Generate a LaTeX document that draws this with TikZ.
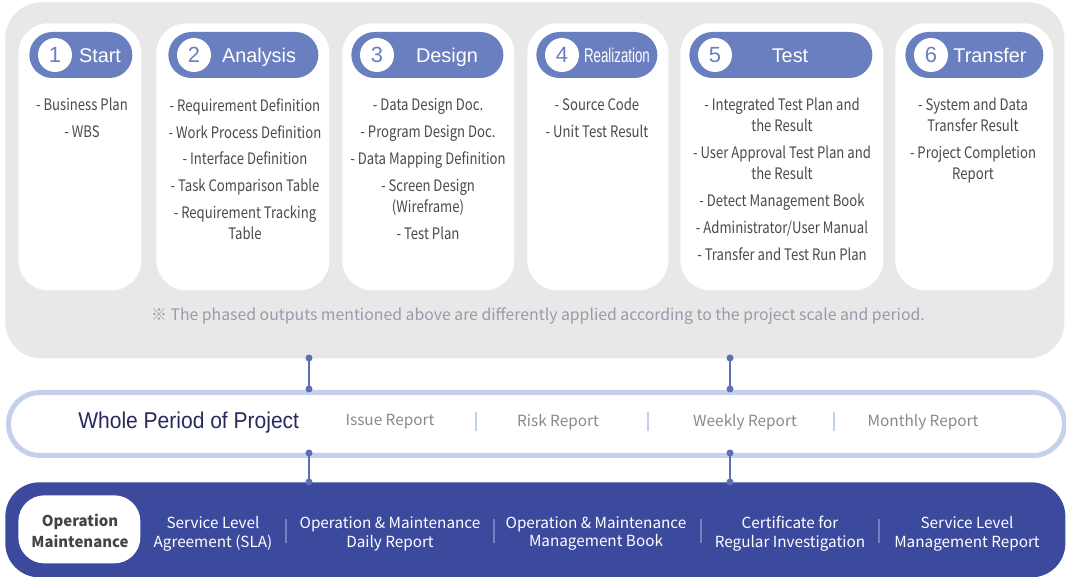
\documentclass[tikz,border=0pt]{standalone}
\usepackage{fontspec}
\usepackage{graphicx}
\setmainfont{Noto Sans CJK KR}
\newfontfamily\headfont{Liberation Sans}
\newfontfamily\cardfont{Noto Sans CJK KR}[FakeStretch=0.83]

\definecolor{panelgray}{HTML}{E8E8E8}
\definecolor{pillblue}{HTML}{6A7FC0}
\definecolor{linkblue}{HTML}{5A70B8}
\definecolor{rimblue}{HTML}{C5D0EA}
\definecolor{navy}{HTML}{3C4A9E}
\definecolor{bodygray}{HTML}{4A4A4A}
\definecolor{notegray}{HTML}{9A9AAA}
\definecolor{reportgray}{HTML}{8A8A8A}
\definecolor{titlenavy}{HTML}{28295C}
\definecolor{sepnavy}{HTML}{7380C4}
\definecolor{labelgray}{HTML}{444444}

\newdimen\px \px=0.02cm

\begin{document}
\begin{tikzpicture}[x=0.02cm,y=-0.02cm]
        \useasboundingbox (0,0) rectangle (1066,577);

        % grey panel and the six phase cards
        \node[fill=panelgray, rounded corners=36*\px, inner sep=0, anchor=north west,
              minimum width=1059*\px, minimum height=356*\px] (panel) at (5,2) {};

        \begin{scope}[every node/.style={fill=white, rounded corners=30*\px, inner sep=0,
                      anchor=north west, minimum height=267*\px}]
          \node[minimum width=123*\px] (c1) at (18,23)  {};
          \node[minimum width=173*\px] (c2) at (156,23) {};
          \node[minimum width=172*\px] (c3) at (342,23) {};
          \node[minimum width=141*\px] (c4) at (527,23) {};
          \node[minimum width=203*\px] (c5) at (680,23) {};
          \node[minimum width=158*\px] (c6) at (895,23) {};
        \end{scope}

        \begin{scope}[every node/.style={fill=pillblue, rounded corners=23*\px, inner sep=0,
                      anchor=west, minimum height=46*\px}]
          \node[minimum width=103*\px] (h1) at (29,55)  {};
          \node[minimum width=150*\px] (h2) at (168,55) {};
          \node[minimum width=152*\px] (h3) at (351,55) {};
          \node[minimum width=121*\px] (h4) at (536,55) {};
          \node[minimum width=183*\px] (h5) at (689,55) {};
          \node[minimum width=138*\px] (h6) at (905,55) {};
        \end{scope}

        \begin{scope}[every node/.style={circle, fill=white, inner sep=0, minimum size=34*\px,
                      text=pillblue, font=\headfont\fontsize{12.5}{14}\selectfont}]
          \node (n1) at (55,55)  {1};
          \node (n2) at (194,55) {2};
          \node (n3) at (377,55) {3};
          \node (n4) at (562,55) {4};
          \node (n5) at (715,55) {5};
          \node (n6) at (931,55) {6};
        \end{scope}

        \begin{scope}[every node/.style={text=white, inner sep=0, anchor=base,
                      font=\headfont\fontsize{11.3}{13}\selectfont}]
          \node (l1) at (100,62.5) {Start};
          \node (l2) at (259,62.5) {Analysis};
          \node (l3) at (447,62.5) {Design};
          \node (l4) at (617,62.5) {\scalebox{0.67}[1]{Realization}};
          \node (l5) at (790,62.5) {Test};
          \node (l6) at (990,62.5) {Transfer};
        \end{scope}

        % outputs of each phase
        \begin{scope}[every node/.style={anchor=north, align=center, inner sep=0, text=bodygray,
                      font=\cardfont\fontsize{9}{11.9}\selectfont}]
          \node (o1) at (82,98)  {- Business Plan\\[3.4pt] - WBS};
          \node (o2) at (245,98) {- Requirement Definition\\[3.4pt] - Work Process Definition\\[3.4pt]
                                  - Interface Definition\\[3.4pt] - Task Comparison Table\\[3.4pt]
                                  - Requirement Tracking\\ Table};
          \node (o3) at (428,98) {- Data Design Doc.\\[3.4pt] - Program Design Doc.\\[3.4pt]
                                  - Data Mapping Definition\\[3.4pt] - Screen Design\\ (Wireframe)\\[3.4pt]
                                  - Test Plan};
          \node (o4) at (597,98) {- Source Code\\[3.4pt] - Unit Test Result};
          \node (o5) at (782,98) {- Integrated Test Plan and\\ the Result\\[3.4pt]
                                  - User Approval Test Plan and\\ the Result\\[3.4pt]
                                  - Detect Management Book\\[3.4pt] - Administrator/User Manual\\[3.4pt]
                                  - Transfer and Test Run Plan};
          \node (o6) at (973,98) {- System and Data\\ Transfer Result\\[3.4pt] - Project Completion\\ Report};
        \end{scope}

        \node[text=notegray, inner sep=0, font=\fontsize{9}{11}\selectfont] (note) at (538,316)
          {※ The phased outputs mentioned above are differently applied according to the project scale and period.};

        % whole period bar
        \node[draw=rimblue, line width=5*\px, fill=white, rounded corners=31.5*\px, inner sep=0,
              anchor=north west, minimum width=1056*\px, minimum height=63*\px] (period) at (6,390) {};

        \node[anchor=west, inner sep=0, text=titlenavy, font=\headfont\fontsize{13}{15}\selectfont] (whole)
          at (78,422.5) {\scalebox{0.92}[1]{Whole Period of Project}};

        \begin{scope}[every node/.style={inner sep=0, text=reportgray, font=\fontsize{8.75}{11}\selectfont}]
          \node (r1) at (390,422) {Issue Report};
          \node (r2) at (558,422) {Risk Report};
          \node (r3) at (745,422) {Weekly Report};
          \node (r4) at (923,422) {Monthly Report};
        \end{scope}

        \foreach \x in {476,648,834}
          \draw[rimblue, line width=2*\px] (\x,412) -- (\x,431);

        % operation and maintenance bar
        \node[fill=navy, rounded corners=34*\px, inner sep=0, anchor=north west,
              minimum width=1060*\px, minimum height=95*\px] (om) at (5,482) {};

        \node[fill=white, rounded corners=26*\px, inner sep=0, anchor=north west,
              minimum width=122*\px, minimum height=68*\px] (omlabel) at (18,495) {};
        \node[align=center, inner sep=0, text=labelgray, font=\bfseries\fontsize{8.5}{11.9}\selectfont] (omtext)
          at (80,530.5) {Operation\\ Maintenance};

        \begin{scope}[every node/.style={align=center, inner sep=0, text=white,
                      font=\fontsize{8.7}{10.8}\selectfont}]
          \node (m1) at (213,533.5) {Service Level\\ Agreement (SLA)};
          \node (m2) at (390,533.5) {Operation \& Maintenance\\ Daily Report};
          \node (m3) at (596,533.5) {Operation \& Maintenance\\ Management Book};
          \node (m4) at (790,533.5) {Certificate for\\ Regular Investigation};
          \node (m5) at (967,533.5) {Service Level\\ Management Report};
        \end{scope}

        \foreach \x in {286,494,701,879}
          \draw[sepnavy, line width=1.5*\px] (\x,519) -- (\x,543);

        % links between the bars
        \foreach \k/\x in {1/309,2/730} {
          \coordinate (top\k) at (\x,358);
          \coordinate (mid\k) at (\x,389);
          \coordinate (low\k) at (\x,453);
          \coordinate (bot\k) at (\x,482);
          \path[draw=linkblue, line width=2.5*\px] (top\k) edge (mid\k) (low\k) edge (bot\k);
          \foreach \p in {top,mid,low,bot}
            \fill[linkblue] (\p\k) circle (0.07cm);
        }

      \end{tikzpicture}
\end{document}
